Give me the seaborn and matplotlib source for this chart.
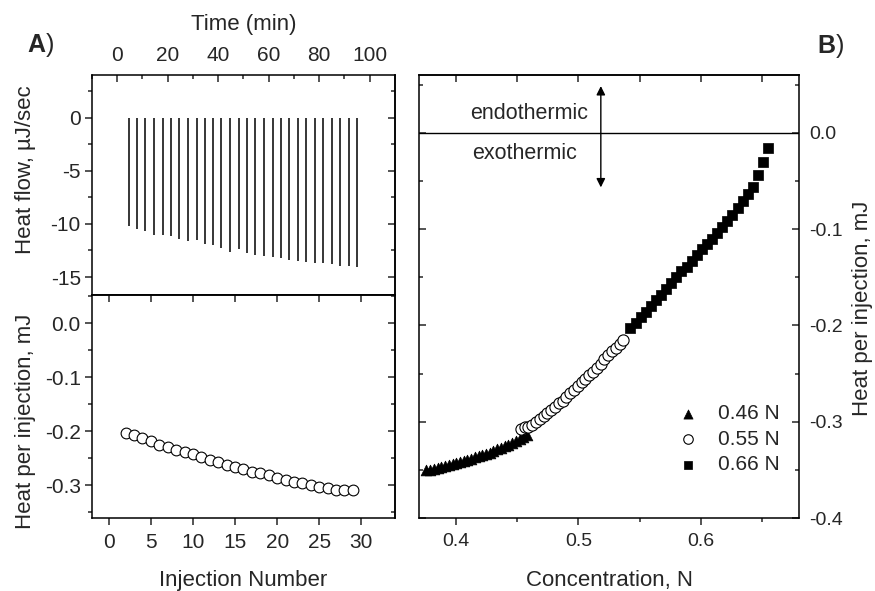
import numpy as np
import pandas as pd
import seaborn as sns
import matplotlib.pyplot as plt
from matplotlib.ticker import MultipleLocator, FormatStrFormatter

# ---- data ----
# A, top: raw ITC trace, one spike per injection (time in min, peak depth in uJ/sec)
spike_time = [4.5, 7.7, 11.1, 14.6, 18.0, 21.2, 24.6, 28.0, 31.5, 34.6, 38.1, 41.2, 44.7, 48.1,
              51.3, 54.7, 58.1, 61.6, 64.7, 68.2, 71.6, 74.8, 78.2, 81.6, 85.1, 88.2, 91.7, 95.1]
spike_depth = [-10.2, -10.5, -10.7, -11.0, -11.0, -11.1, -11.4, -11.6, -11.5, -11.9, -12.0, -12.3, -12.6, -12.4,
               -12.7, -12.9, -13.0, -13.1, -13.2, -13.4, -13.5, -13.6, -13.7, -13.7, -13.8, -14.0, -14.0, -14.1]

# A, bottom: integrated heat per injection
inj_number = list(range(2, 30))
inj_heat = [-0.203, -0.208, -0.213, -0.219, -0.225, -0.230, -0.235, -0.239, -0.243, -0.248, -0.253, -0.257, -0.262, -0.267,
            -0.270, -0.275, -0.278, -0.282, -0.286, -0.291, -0.295, -0.296, -0.300, -0.303, -0.305, -0.309, -0.309, -0.310]

# B: heat per injection vs concentration for three syringe concentrations
conc_046 = [0.3760, 0.3790, 0.3821, 0.3851, 0.3882, 0.3912, 0.3942, 0.3973, 0.4003, 0.4034, 0.4064, 0.4094, 0.4125, 0.4155,
            0.4186, 0.4216, 0.4246, 0.4277, 0.4307, 0.4338, 0.4368, 0.4398, 0.4429, 0.4459, 0.4490, 0.4520, 0.4550, 0.4581]
heat_046 = [-0.350, -0.350, -0.349, -0.348, -0.347, -0.346, -0.345, -0.344, -0.343, -0.342, -0.341, -0.340, -0.339, -0.337,
            -0.336, -0.335, -0.334, -0.332, -0.330, -0.328, -0.327, -0.325, -0.324, -0.322, -0.320, -0.318, -0.316, -0.314]
conc_055 = [0.4530, 0.4561, 0.4592, 0.4623, 0.4654, 0.4685, 0.4716, 0.4747, 0.4778, 0.4809, 0.4840, 0.4871, 0.4902, 0.4933,
            0.4964, 0.4995, 0.5026, 0.5057, 0.5088, 0.5119, 0.5150, 0.5181, 0.5212, 0.5243, 0.5274, 0.5305, 0.5336, 0.5367]
heat_055 = [-0.308, -0.306, -0.305, -0.303, -0.300, -0.297, -0.294, -0.291, -0.288, -0.285, -0.281, -0.278, -0.274, -0.270,
            -0.267, -0.263, -0.259, -0.256, -0.252, -0.248, -0.244, -0.240, -0.235, -0.231, -0.227, -0.223, -0.219, -0.215]
conc_066 = [0.5425, 0.5467, 0.5508, 0.5550, 0.5591, 0.5633, 0.5675, 0.5716, 0.5758, 0.5799, 0.5841, 0.5883, 0.5924, 0.5966,
            0.6007, 0.6049, 0.6091, 0.6132, 0.6174, 0.6215, 0.6257, 0.6299, 0.6340, 0.6382, 0.6423, 0.6465, 0.6506, 0.6547]
heat_066 = [-0.203, -0.197, -0.191, -0.186, -0.180, -0.174, -0.168, -0.162, -0.156, -0.150, -0.144, -0.139, -0.133, -0.127,
            -0.121, -0.115, -0.110, -0.104, -0.098, -0.092, -0.085, -0.078, -0.071, -0.064, -0.056, -0.044, -0.030, -0.016]

sns.set_style("ticks")
plt.rcParams['font.family'] = ['Liberation Sans', 'DejaVu Sans']
plt.rcParams['axes.unicode_minus'] = False
plt.rcParams['axes.linewidth'] = 1.1
plt.rcParams['axes.edgecolor'] = 'black'

TICK = 14
TICK_L = 15
LAB = 16

fig = plt.figure(figsize=(8.75, 5.91), dpi=100)
ax_a = fig.add_axes([0.1051, 0.5008, 0.3463, 0.3723])
ax_c = fig.add_axes([0.1051, 0.1235, 0.3463, 0.3773])
ax_b = fig.add_axes([0.4789, 0.1235, 0.4343, 0.7496])

# ---- A top: thermogram ----
ax_a.vlines(spike_time, spike_depth, 0, color='black', lw=1.1)
ax_a.set_xlim(-10, 110)
ax_a.set_ylim(-16.7, 4.05)
ax_a.xaxis.tick_top()
ax_a.xaxis.set_label_position('top')
ax_a.set_xlabel('Time (min)', fontsize=LAB)
ax_a.xaxis.set_label_coords(0.5, 1.205)
ax_a.set_ylabel('Heat flow, µJ/sec', fontsize=LAB)
ax_a.yaxis.set_label_coords(-0.185, 0.568)
ax_a.xaxis.set_major_locator(MultipleLocator(20))
ax_a.xaxis.set_minor_locator(MultipleLocator(10))
ax_a.yaxis.set_major_locator(MultipleLocator(5))
ax_a.yaxis.set_minor_locator(MultipleLocator(2.5))
ax_a.tick_params(axis='x', which='both', direction='in', top=True, bottom=False, labelsize=TICK_L, pad=7)
ax_a.tick_params(axis='y', which='both', direction='out', left=True, right=False, labelsize=TICK_L, pad=3)
ax_a.tick_params(which='major', length=5, width=1.1)
ax_a.tick_params(which='minor', length=3, width=1.1)
# inward ticks on the right spine
ax_ar = ax_a.secondary_yaxis('right')
ax_ar.yaxis.set_major_locator(MultipleLocator(5))
ax_ar.yaxis.set_minor_locator(MultipleLocator(2.5))
ax_ar.tick_params(which='both', direction='in', labelright=False)
ax_ar.tick_params(which='major', length=5, width=1.1)
ax_ar.tick_params(which='minor', length=3, width=1.1)

# ---- A bottom: heat per injection ----
sns.scatterplot(x=inj_number, y=inj_heat, ax=ax_c, marker='o', s=60,
                facecolor='white', edgecolor='black', linewidth=0.8, zorder=3)
ax_c.set_xlim(-2, 34)
ax_c.set_ylim(-0.361, 0.052)
ax_c.xaxis.set_major_locator(MultipleLocator(5))
ax_c.yaxis.set_major_locator(MultipleLocator(0.1))
ax_c.yaxis.set_minor_locator(MultipleLocator(0.05))
ax_c.yaxis.set_major_formatter(FormatStrFormatter('%.1f'))
ax_c.set_xlabel('Injection Number', fontsize=LAB)
ax_c.xaxis.set_label_coords(0.5, -0.235)
ax_c.set_ylabel('Heat per injection, mJ', fontsize=LAB)
ax_c.yaxis.set_label_coords(-0.185, 0.433)
ax_c.tick_params(axis='x', which='both', direction='out', labelsize=TICK_L, pad=6)
ax_c.tick_params(axis='y', which='both', direction='out', labelsize=TICK_L, pad=3)
ax_c.tick_params(which='major', length=5, width=1.1)
ax_c.tick_params(which='minor', length=3, width=1.1)
ax_ct = ax_c.secondary_xaxis('top')
ax_ct.xaxis.set_major_locator(MultipleLocator(5))
ax_ct.tick_params(direction='in', length=5, width=1.1, labeltop=False)
ax_cr = ax_c.secondary_yaxis('right')
ax_cr.yaxis.set_major_locator(MultipleLocator(0.1))
ax_cr.yaxis.set_minor_locator(MultipleLocator(0.05))
ax_cr.tick_params(which='both', direction='in', labelright=False)
ax_cr.tick_params(which='major', length=5, width=1.1)
ax_cr.tick_params(which='minor', length=3, width=1.1)

# ---- B: heat vs concentration ----
ax_b.axhline(0, color='black', lw=1.0, zorder=1)
sns.scatterplot(x=conc_046, y=heat_046, ax=ax_b, marker='^', s=60, color='black',
                edgecolor='black', linewidth=0.5, label='0.46 N', zorder=3)
sns.scatterplot(x=conc_055, y=heat_055, ax=ax_b, marker='o', s=65, facecolor='white',
                edgecolor='black', linewidth=0.8, label='0.55 N', zorder=4)
sns.scatterplot(x=conc_066, y=heat_066, ax=ax_b, marker='s', s=50, color='black',
                edgecolor='black', linewidth=0.5, label='0.66 N', zorder=5)
ax_b.set_xlim(0.37, 0.68)
ax_b.set_ylim(-0.4, 0.06)
ax_b.xaxis.set_major_locator(MultipleLocator(0.1))
ax_b.xaxis.set_minor_locator(MultipleLocator(0.05))
ax_b.yaxis.set_major_locator(MultipleLocator(0.1))
ax_b.yaxis.set_minor_locator(MultipleLocator(0.05))
ax_b.xaxis.set_major_formatter(FormatStrFormatter('%.1f'))
ax_b.yaxis.set_major_formatter(FormatStrFormatter('%.1f'))
ax_b.tick_params(axis='x', which='both', direction='out', labelsize=TICK, pad=6)
ax_b.tick_params(axis='y', which='both', direction='in', left=True, right=True,
                 labelleft=False, labelright=True, labelsize=TICK, pad=7)
ax_b.tick_params(which='major', length=5, width=1.1)
ax_b.tick_params(which='minor', length=3, width=1.1)
ax_bt = ax_b.secondary_xaxis('top')
ax_bt.xaxis.set_major_locator(MultipleLocator(0.1))
ax_bt.xaxis.set_minor_locator(MultipleLocator(0.05))
ax_bt.tick_params(which='both', direction='in', labeltop=False)
ax_bt.tick_params(which='major', length=5, width=1.1)
ax_bt.tick_params(which='minor', length=5, width=1.1)
ax_b.set_xlabel('Concentration, N', fontsize=LAB)
ax_b.xaxis.set_label_coords(0.5, -0.118)
ax_b.yaxis.set_label_position('right')
ax_b.set_ylabel('Heat per injection, mJ', fontsize=LAB)
ax_b.yaxis.set_label_coords(1.14, 0.473)

ax_b.text(0.4116, 0.0142, 'endothermic', fontsize=15.5, ha='left', va='baseline')
ax_b.text(0.4130, -0.0273, 'exothermic', fontsize=15.5, ha='left', va='baseline')
ax_b.annotate('', xy=(0.5183, 0.0485), xytext=(0.5183, -0.0567),
              arrowprops=dict(arrowstyle='<|-|>', color='black', lw=1.0, mutation_scale=13,
                              shrinkA=0, shrinkB=0))

leg = ax_b.legend(loc='upper left', bbox_to_anchor=(0.6805, 0.2573), frameon=False,
                  fontsize=15, handlelength=1.0, handletextpad=0.95, labelspacing=0.32,
                  borderpad=0, borderaxespad=0, markerscale=0.85)

# panel letters
fig.text(27 / 875, 1 - 51.7 / 591, 'A', fontsize=18, fontweight='bold', va='baseline')
fig.text(45.5 / 875, 1 - 51.7 / 591, ')', fontsize=18, va='baseline')
fig.text(817.7 / 875, 1 - 53 / 591, 'B', fontsize=18, fontweight='bold', va='baseline')
fig.text(836 / 875, 1 - 53 / 591, ')', fontsize=18, va='baseline')

fig.savefig('out.png', dpi=100)
